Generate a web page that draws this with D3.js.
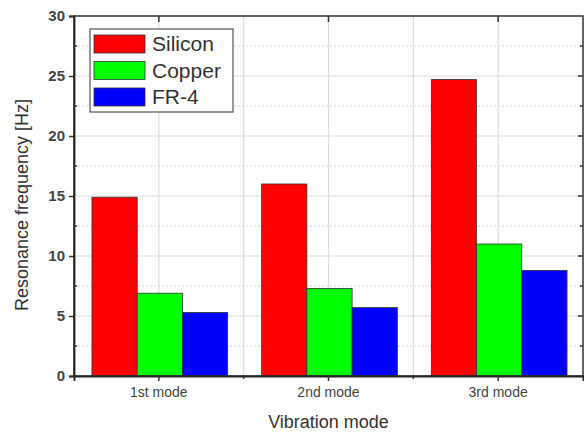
<!DOCTYPE html>
<html>
<head>
<meta charset="utf-8">
<script src="https://cdn.jsdelivr.net/npm/d3@7"></script>
<style>
  body { margin: 0; background: #fff; }
  text { font-family: Arial, "Liberation Sans", sans-serif; }
</style>
</head>
<body>
<div id="chart"></div>
<script>
var modes = ["1st mode", "2nd mode", "3rd mode"];
var materials = ["Silicon", "Copper", "FR-4"];
var silicon = [14.9, 16.0, 24.7];
var copper = [6.9, 7.3, 11.0];
var fr4 = [5.3, 5.7, 8.8];
var colors = ["#ff0000", "#00ff00", "#0000ff"];
var yTicks = [0, 5, 10, 15, 20, 25, 30];

var series = [silicon, copper, fr4];

var margin = {top: 16, right: 1, bottom: 57, left: 74},
    width = 584 - margin.left - margin.right,
    height = 433 - margin.top - margin.bottom;

var svg = d3.select("#chart").append("svg")
    .attr("width", 584)
    .attr("height", 433)
    .append("g")
    .attr("transform", "translate(" + margin.left + "," + margin.top + ")");

var x = d3.scaleBand().domain(modes).range([0, width]);
var x1 = d3.scaleBand().domain(materials).range([0, x.bandwidth() * 0.8]);
var y = d3.scaleLinear().domain([0, 30]).range([height, 0]);

// grid
var minorY = d3.range(2.5, 30, 5);
svg.selectAll(".gmaj").data(yTicks.slice(1, -1)).enter().append("line")
    .attr("x1", 0).attr("x2", width)
    .attr("y1", function(d) { return y(d); }).attr("y2", function(d) { return y(d); })
    .style("stroke", "#dcdcdc").style("stroke-width", 1.2);
svg.selectAll(".gmin").data(minorY).enter().append("line")
    .attr("x1", 0).attr("x2", width)
    .attr("y1", function(d) { return y(d); }).attr("y2", function(d) { return y(d); })
    .style("stroke", "#d4d4d4").style("stroke-width", 1.2).style("stroke-dasharray", "2,2");
var vx = modes.map(function(m) { return x(m) + x.bandwidth() / 2; })
    .concat([x(modes[1]), x(modes[2])]);
svg.selectAll(".gv").data(vx).enter().append("line")
    .attr("x1", function(d) { return d; }).attr("x2", function(d) { return d; })
    .attr("y1", 0).attr("y2", height)
    .style("stroke", "#dcdcdc").style("stroke-width", 1.2);

// bars
var groups = svg.selectAll(".grp").data(modes).enter().append("g")
    .attr("transform", function(d) { return "translate(" + (x(d) + x.bandwidth() * 0.1 + 1) + ",0)"; });
groups.selectAll("rect")
    .data(function(d, i) { return materials.map(function(m, j) { return {m: m, v: series[j][i], c: colors[j]}; }); })
    .enter().append("rect")
    .attr("x", function(d) { return x1(d.m); })
    .attr("y", function(d) { return y(d.v); })
    .attr("width", x1.bandwidth())
    .attr("height", function(d) { return height - y(d.v); })
    .style("fill", function(d) { return d.c; })
    .style("stroke", "#333").style("stroke-width", 0.8);

// frame
svg.append("rect").attr("width", width).attr("height", height)
    .style("fill", "none").style("stroke", "#333").style("stroke-width", 1.5);

// left axis
var yAxis = svg.append("g")
    .call(d3.axisLeft(y).tickValues(yTicks).tickSize(5).tickPadding(4));
yAxis.select(".domain").style("stroke", "#222").style("stroke-width", 1.8);
yAxis.selectAll(".tick line").style("stroke", "#333").style("stroke-width", 1.5);
yAxis.selectAll("text").style("font-size", "15px").style("font-weight", "bold").style("fill", "#444");
svg.selectAll(".lmin").data(minorY).enter().append("line")
    .attr("x1", 0).attr("x2", 3)
    .attr("y1", function(d) { return y(d); }).attr("y2", function(d) { return y(d); })
    .style("stroke", "#333").style("stroke-width", 1.5);

// right axis inward ticks
svg.selectAll(".rt").data(yTicks.slice(1, -1).concat(minorY)).enter().append("line")
    .attr("x1", width).attr("x2", function(d) { return d % 5 === 0 ? width - 5 : width - 3; })
    .attr("y1", function(d) { return y(d); }).attr("y2", function(d) { return y(d); })
    .style("stroke", "#333").style("stroke-width", 1.5);

// bottom axis
var xAxis = svg.append("g")
    .attr("transform", "translate(0," + height + ")")
    .call(d3.axisBottom(x).tickSize(5).tickPadding(6));
xAxis.select(".domain").style("stroke", "#222").style("stroke-width", 1.8);
xAxis.selectAll(".tick line").style("stroke", "#333").style("stroke-width", 1.5);
xAxis.selectAll("text").style("font-size", "14px").style("fill", "#444");
svg.selectAll(".bmin").data([x(modes[1]), x(modes[2])]).enter().append("line")
    .attr("x1", function(d) { return d; }).attr("x2", function(d) { return d; })
    .attr("y1", height).attr("y2", height + 3)
    .style("stroke", "#333").style("stroke-width", 1.5);

// top axis inward ticks
svg.selectAll(".tt").data(modes).enter().append("line")
    .attr("x1", function(d) { return x(d) + x.bandwidth() / 2; })
    .attr("x2", function(d) { return x(d) + x.bandwidth() / 2; })
    .attr("y1", 0).attr("y2", 6)
    .style("stroke", "#333").style("stroke-width", 1.5);

// axis titles
svg.append("text")
    .attr("x", width / 2)
    .attr("y", height + 52)
    .style("text-anchor", "middle")
    .style("font-size", "18px").style("fill", "#333")
    .text("Vibration mode");

svg.append("text")
    .attr("transform", "rotate(-90)")
    .attr("x", -(height / 2) - 9)
    .attr("y", -46)
    .style("text-anchor", "middle")
    .style("font-size", "18px").style("fill", "#333")
    .text("Resonance frequency [Hz]");

// legend
var legend = svg.append("g").attr("transform", "translate(16,13)");
legend.append("rect").attr("width", 143).attr("height", 83)
    .style("fill", "#fff").style("stroke", "#555").style("stroke-width", 1.2);
materials.forEach(function(m, i) {
    legend.append("rect")
        .attr("x", 4).attr("y", 6 + i * 26.5)
        .attr("width", 51).attr("height", 18)
        .style("fill", colors[i]).style("stroke", "#333").style("stroke-width", 0.8);
    legend.append("text")
        .attr("x", 62).attr("y", 22 + i * 26.5)
        .style("font-size", "21px").style("fill", "#333")
        .text(m);
});
</script>
</body>
</html>
